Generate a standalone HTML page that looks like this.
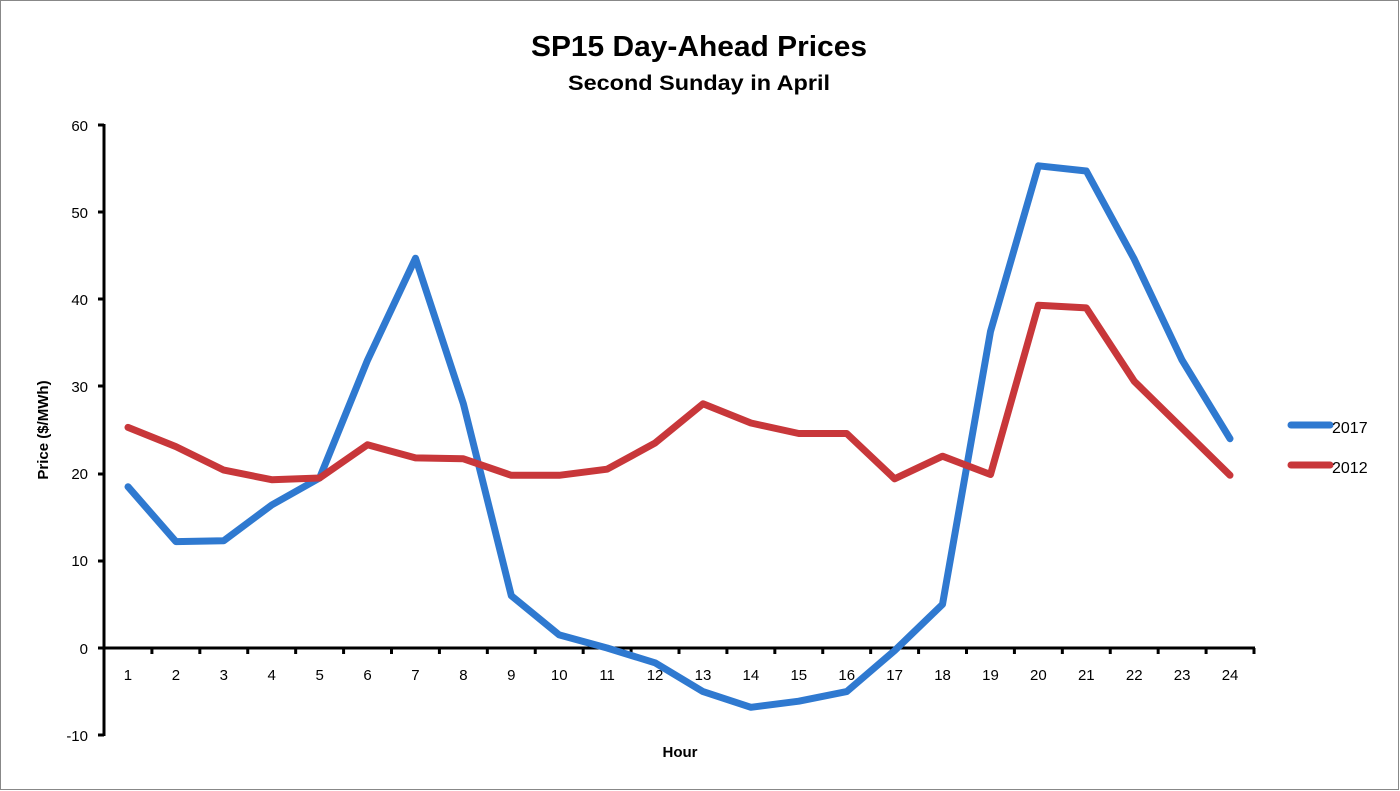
<!DOCTYPE html>
<html><head><meta charset="utf-8"><style>
html,body{margin:0;padding:0;background:#fff;}
svg{display:block;font-family:"Liberation Sans",sans-serif;}
</style></head><body>
<svg width="1400" height="791" viewBox="0 0 1400 791">
<rect x="0.5" y="0.5" width="1398" height="789" fill="#fff" stroke="#888" stroke-width="1"/>
<text x="699" y="56" text-anchor="middle" font-size="29" font-weight="bold" textLength="336" lengthAdjust="spacingAndGlyphs">SP15 Day-Ahead Prices</text>
<text x="699" y="90" text-anchor="middle" font-size="21" font-weight="bold" textLength="262" lengthAdjust="spacingAndGlyphs">Second Sunday in April</text>
<g font-size="15" text-anchor="end" fill="#000">
<text x="88" y="131">60</text><text x="88" y="218">50</text><text x="88" y="305">40</text>
<text x="88" y="392">30</text><text x="88" y="479">20</text><text x="88" y="566">10</text>
<text x="88" y="654">0</text><text x="88" y="741">-10</text>
</g>
<g stroke="#000" stroke-width="3">
<line x1="104" y1="124" x2="104" y2="736"/>
<line x1="102" y1="648" x2="1255" y2="648"/>
<line x1="98" y1="125" x2="104" y2="125"/><line x1="98" y1="212" x2="104" y2="212"/>
<line x1="98" y1="299" x2="104" y2="299"/><line x1="98" y1="386" x2="104" y2="386"/>
<line x1="98" y1="474" x2="104" y2="474"/><line x1="98" y1="561" x2="104" y2="561"/>
<line x1="98" y1="648" x2="104" y2="648"/><line x1="98" y1="735" x2="104" y2="735"/>
</g>
<g id="xt" stroke="#000" stroke-width="3"></g>
<g id="xl" font-size="15" text-anchor="middle"></g>
<text x="680" y="757" text-anchor="middle" font-size="15" font-weight="bold">Hour</text>
<text transform="translate(48,430) rotate(-90)" text-anchor="middle" font-size="15" font-weight="bold">Price ($/MWh)</text>
<polyline id="p17" fill="none" stroke="#2f79d0" stroke-width="7" stroke-linejoin="round" stroke-linecap="round"/>
<polyline id="p12" fill="none" stroke="#c8373a" stroke-width="7" stroke-linejoin="round" stroke-linecap="round"/>
<line x1="1291" y1="425" x2="1330" y2="425" stroke="#2f79d0" stroke-width="7" stroke-linecap="round"/>
<line x1="1291" y1="465" x2="1330" y2="465" stroke="#c8373a" stroke-width="7" stroke-linecap="round"/>
<text x="1332" y="433" font-size="16">2017</text>
<text x="1332" y="473" font-size="16">2012</text>
</svg>
<script>
var a=[18.5,12.2,12.3,16.4,19.5,33,44.7,28,6,1.5,0,-1.7,-5,-6.8,-6.1,-5,-0.3,5,36.3,55.3,54.7,44.6,33,24];
var b=[25.3,23.1,20.4,19.3,19.5,23.3,21.8,21.7,19.8,19.8,20.5,23.5,28,25.8,24.6,24.6,19.4,22,19.9,39.3,39,30.6,25.2,19.8];
var w=1150/24;function X(i){return 104+(i+0.5)*w}function Y(v){return 648-v*8.72}
document.getElementById('p17').setAttribute('points',a.map(function(v,i){return X(i).toFixed(1)+','+Y(v).toFixed(1)}).join(' '));
document.getElementById('p12').setAttribute('points',b.map(function(v,i){return X(i).toFixed(1)+','+Y(v).toFixed(1)}).join(' '));
var ns='http://www.w3.org/2000/svg',t=document.getElementById('xt'),l=document.getElementById('xl');
for(var i=1;i<=24;i++){var x=104+i*w;var ln=document.createElementNS(ns,'line');ln.setAttribute('x1',x);ln.setAttribute('x2',x);ln.setAttribute('y1',648);ln.setAttribute('y2',654);t.appendChild(ln);
var tx=document.createElementNS(ns,'text');tx.setAttribute('x',X(i-1));tx.setAttribute('y',680);tx.textContent=i;l.appendChild(tx);}
</script>
</body></html>
